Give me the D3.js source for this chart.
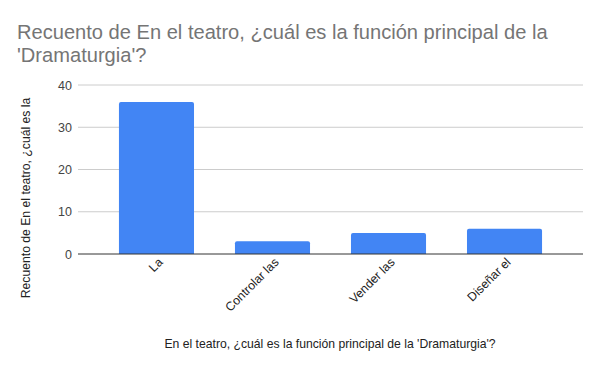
<!DOCTYPE html>
<html>
<head>
<meta charset="utf-8">
<script src="https://cdn.jsdelivr.net/npm/d3@7.9.0/dist/d3.min.js"></script>
<style>
  body { margin: 0; background: #fff; }
  svg { font-family: Arial, "Liberation Sans", sans-serif; }
</style>
</head>
<body>
<svg width="600" height="371"></svg>
<script>
const categories = ["La", "Controlar las", "Vender las", "Diseñar el"];
const counts = [36, 3, 5, 6];
const yTicks = [0, 10, 20, 30, 40];
const titleLines = ["Recuento de En el teatro, ¿cuál es la función principal de la", "'Dramaturgia'?"];
const yTitle = "Recuento de En el teatro, ¿cuál es la";
const xTitle = "En el teatro, ¿cuál es la función principal de la 'Dramaturgia'?";

const svg = d3.select("svg");
const plotLeft = 78, plotRight = 583, plotTop = 85, plotBottom = 254;

const x = d3.scaleBand().domain(categories).range([plotLeft, plotRight])
  .paddingInner(0.353).paddingOuter(0.353);
const y = d3.scaleLinear().domain([0, 40]).range([plotBottom, plotTop]);

// title
svg.append("text")
  .attr("x", 17).attr("y", 39)
  .attr("fill", "#757575").attr("font-size", 20.1)
  .selectAll("tspan").data(titleLines).join("tspan")
  .attr("x", 17).attr("dy", (d, i) => i ? 23 : 0)
  .text(d => d);

// gridlines
svg.append("g").selectAll("line").data(yTicks.filter(d => d > 0)).join("line")
  .attr("x1", plotLeft).attr("x2", plotRight)
  .attr("y1", d => y(d)).attr("y2", d => y(d))
  .attr("stroke", "#cccccc").attr("stroke-width", 1);

// y tick labels
svg.append("g").selectAll("text").data(yTicks).join("text")
  .attr("x", 72).attr("y", d => y(d) + 4.5)
  .attr("text-anchor", "end")
  .attr("font-size", 12.5).attr("fill", "#444")
  .text(d => d);

// bars
const r = 2;
svg.append("g").selectAll("path").data(categories).join("path")
  .attr("fill", "#4285f4")
  .attr("d", (d, i) => {
    const x0 = x(d), w = x.bandwidth(), y0 = y(counts[i]), y1 = y(0);
    return `M${x0},${y1}V${y0 + r}Q${x0},${y0} ${x0 + r},${y0}H${x0 + w - r}Q${x0 + w},${y0} ${x0 + w},${y0 + r}V${y1}Z`;
  });

// baseline
svg.append("line")
  .attr("x1", plotLeft).attr("x2", plotRight)
  .attr("y1", y(0)).attr("y2", y(0))
  .attr("stroke", "#333").attr("stroke-width", 1);

// x labels
svg.append("g").selectAll("text").data(categories).join("text")
  .attr("text-anchor", "end")
  .attr("font-size", 12.3).attr("fill", "#222")
  .attr("transform", d => `translate(${x(d) + x.bandwidth() / 2 + 7},${263}) rotate(-45)`)
  .text(d => d);

// axis titles
svg.append("text")
  .attr("x", 330).attr("y", 348)
  .attr("text-anchor", "middle")
  .attr("font-size", 12.2).attr("fill", "#222")
  .text(xTitle);

svg.append("text")
  .attr("transform", "translate(30,198) rotate(-90)")
  .attr("text-anchor", "middle")
  .attr("font-size", 12.2).attr("fill", "#222")
  .text(yTitle);
</script>
</body>
</html>
